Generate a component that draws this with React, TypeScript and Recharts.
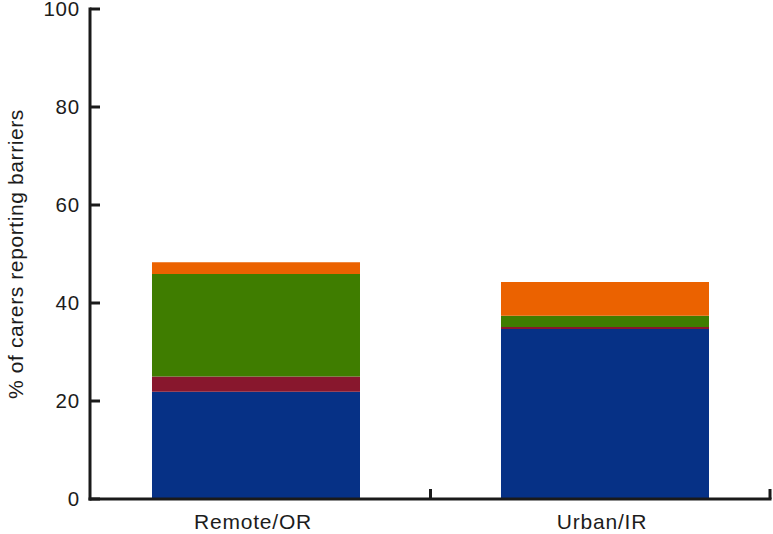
import React from 'react';
import { BarChart, Bar, XAxis, YAxis, Label } from 'recharts';

const categories = ['Remote/OR', 'Urban/IR'];
const seriesBlue = [21.9, 34.7];
const seriesMaroon = [3.1, 0.4];
const seriesGreen = [20.9, 2.3];
const seriesOrange = [2.4, 6.9];
const yTicks = [0, 20, 40, 60, 80, 100];
const yLabel = '% of carers reporting barriers';

const data = categories.map((c, i) => ({
  name: c,
  blue: seriesBlue[i],
  maroon: seriesMaroon[i],
  green: seriesGreen[i],
  orange: seriesOrange[i],
}));

const FONT = '"Liberation Sans", Arial, Helvetica, sans-serif';
const AXIS = '#1a1a1a';
const TEXT = '#1c1c1c';
const PAD_L = -8.5;
const PAD_R = -9.5;

const YTick = (props: any) => {
  const { x, y, payload } = props;
  return (
    <g>
      <line x1={x} x2={x + 10} y1={y} y2={y} stroke={AXIS} strokeWidth={3} />
      <text
        x={x - 10}
        y={y}
        dy="0.36em"
        textAnchor="end"
        fontFamily={FONT}
        fontSize={20.5}
        letterSpacing={0.8}
        fill={TEXT}
      >
        {payload.value}
      </text>
    </g>
  );
};

const XTick = (props: any) => {
  const { x, y, payload, index } = props;
  const half = payload && typeof payload.offset === 'number' && payload.offset > 0 ? payload.offset : 174.5;
  const isLast = index === categories.length - 1;
  const tickX = isLast ? x + half + PAD_R : x + half;
  return (
    <g>
      <line x1={tickX} x2={tickX} y1={y} y2={y - 10} stroke={AXIS} strokeWidth={3} />
      <text
        x={x - 3}
        y={y + 22}
        dy="0.36em"
        textAnchor="middle"
        fontFamily={FONT}
        fontSize={21}
        letterSpacing={0.8}
        fill={TEXT}
      >
        {payload.value}
      </text>
    </g>
  );
};

const YLabelContent = (props: any) => {
  const vb = props.viewBox || { x: 0, y: 9, width: 90, height: 490 };
  const cx = vb.x + 15;
  const cy = vb.y + vb.height / 2;
  return (
    <text
      x={cx}
      y={cy}
      dy="0.36em"
      textAnchor="middle"
      transform={`rotate(-90, ${cx}, ${cy})`}
      fontFamily={FONT}
      fontSize={21}
      letterSpacing={0.6}
      fill={TEXT}
    >
      {yLabel}
    </text>
  );
};

export default function App() {
  return (
    <div style={{ position: 'absolute', left: 0, top: 0, width: 773, height: 534, background: '#fff' }}>
      <BarChart
        width={773}
        height={534}
        data={data}
        margin={{ top: 9, right: 3, bottom: 0, left: 0 }}
        barCategoryGap="20.2%"
      >
        <XAxis
          dataKey="name"
          height={35}
          padding={{ left: PAD_L, right: PAD_R }}
          tickSize={0}
          tickMargin={0}
          tick={<XTick />}
          axisLine={{ stroke: AXIS, strokeWidth: 3, strokeLinecap: 'square' }}
          tickLine={false}
          interval={0}
        />
        <YAxis
          width={90}
          domain={[0, 100]}
          ticks={yTicks}
          tickSize={0}
          tickMargin={0}
          tick={<YTick />}
          axisLine={{ stroke: AXIS, strokeWidth: 3, strokeLinecap: 'square' }}
          tickLine={false}
          interval={0}
        >
          <Label content={<YLabelContent />} />
        </YAxis>
        <Bar dataKey="blue" stackId="a" fill="#063186" isAnimationActive={false} />
        <Bar dataKey="maroon" stackId="a" fill="#88172d" isAnimationActive={false} />
        <Bar dataKey="green" stackId="a" fill="#3f7d00" isAnimationActive={false} />
        <Bar dataKey="orange" stackId="a" fill="#eb6200" isAnimationActive={false} />
      </BarChart>
    </div>
  );
}
